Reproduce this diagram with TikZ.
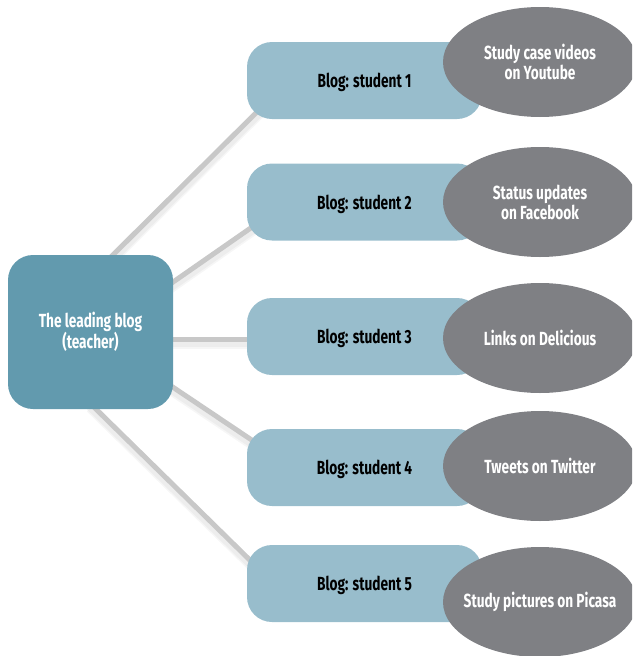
\documentclass[tikz,border=0pt]{standalone}
\usepackage{fontspec}
\setmainfont{Fira Sans}[FakeStretch=0.72,BoldFont={Fira Sans Bold}]
\usetikzlibrary{shapes.geometric,calc,backgrounds}
\definecolor{teachc}{HTML}{629AAE}
\definecolor{studc}{HTML}{98BDCC}
\definecolor{ellc}{HTML}{7F8084}
\definecolor{linec}{HTML}{C8C8C8}
\tikzset{
  lbl/.style={font=\bfseries\fontsize{19}{20}\selectfont, align=center, inner sep=0pt},
  teacher/.style={lbl, rectangle, rounded corners=25pt, fill=teachc, minimum width=165pt, minimum height=154pt, text=white},
  student/.style={lbl, rectangle, rounded corners=25pt, fill=studc, minimum width=235pt, minimum height=77pt, text=black, text depth=0pt},
  tool/.style={lbl, ellipse, fill=ellc, minimum width=194pt, minimum height=110pt, text=white},
  link/.style={draw=linec, line width=5pt},
  linkshadow/.style={draw=black, draw opacity=0.035, line width=9pt},
}
\begin{document}
\begin{tikzpicture}[x=1pt,y=-1pt]
\useasboundingbox (0,0) rectangle (632,656);
\clip (0,0) rectangle (632,656);
\node[teacher] (t) at (90.5,332) {The leading blog\\(teacher)};
\node[student] (s1) at (364.5,80.5) {Blog: student 1};
\node[student] (s2) at (364.5,202) {Blog: student 2};
\node[student] (s3) at (364.5,336.5) {Blog: student 3};
\node[student] (s4) at (364.5,467.5) {Blog: student 4};
\node[student] (s5) at (364.5,583.5) {Blog: student 5};
\node[tool] (e1) at (540,62) {Study case videos\\on Youtube};
\node[tool] (e2) at (540,202) {Status updates\\on Facebook};
\node[tool] (e3) at (540,338) {Links on Delicious};
\node[tool] (e4) at (540,466) {Tweets on Twitter};
\node[tool, inner xsep=-12pt] (e5) at (540,602) {Study pictures on Picasa};
\begin{pgfonlayer}{background}
  \foreach \d in {3,5} {
    \draw[linkshadow] ($(t.north)+(14.5,8+\d)$) -- ($(s1.south west)+(18,-15+\d)$);
    \draw[linkshadow] ($(t.east)+(-8,-44.5+\d)$) -- ($(s2.south west)+(18,-22.5+\d)$);
    \draw[linkshadow] ($(t.east)+(-13,7+\d)$) -- ($(s3.west)+(13,2.5+\d)$);
    \draw[linkshadow] ($(t.east)+(-8,50+\d)$) -- ($(s4.north west)+(18,20+\d)$);
    \draw[linkshadow] ($(t.south)+(-0.5,-6+\d)$) -- ($(s5.north west)+(15,27+\d)$);
  }
  \draw[link] ($(t.north)+(14.5,8)$) -- ($(s1.south west)+(18,-15)$);
  \draw[link] ($(t.east)+(-8,-44.5)$) -- ($(s2.south west)+(18,-22.5)$);
  \draw[link] ($(t.east)+(-13,7)$) -- ($(s3.west)+(13,2.5)$);
  \draw[link] ($(t.east)+(-8,50)$) -- ($(s4.north west)+(18,20)$);
  \draw[link] ($(t.south)+(-0.5,-6)$) -- ($(s5.north west)+(15,27)$);
\end{pgfonlayer}
\end{tikzpicture}
\end{document}
